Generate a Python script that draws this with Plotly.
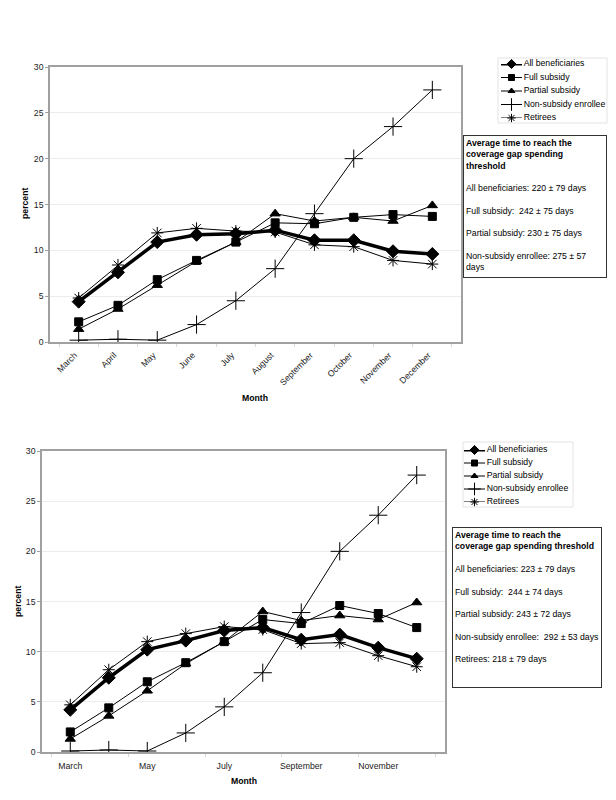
"""Share of beneficiaries reaching the coverage gap, by month (two panels)."""

import plotly.graph_objects as go

months = ["March", "April", "May", "June", "July", "August",
          "September", "October", "November", "December"]
series_names = ["All beneficiaries", "Full subsidy", "Partial subsidy",
                "Non-subsidy enrollee", "Retirees"]

# top panel
top_all = [4.4, 7.6, 10.9, 11.7, 11.8, 12.2, 11.1, 11.1, 9.9, 9.6]
top_full = [2.2, 4.0, 6.8, 8.9, 10.9, 13.0, 12.9, 13.6, 13.9, 13.7]
top_partial = [1.4, 3.6, 6.2, 8.8, 10.9, 14.0, 13.2, 13.6, 13.2, 14.9]
top_nonsub = [0.2, 0.3, 0.2, 1.9, 4.5, 8.0, 14.0, 20.0, 23.5, 27.5]
top_retirees = [4.8, 8.4, 11.9, 12.4, 12.1, 12.0, 10.6, 10.4, 8.9, 8.5]

# bottom panel
bot_all = [4.2, 7.4, 10.2, 11.1, 12.1, 12.4, 11.2, 11.7, 10.4, 9.3]
bot_full = [2.0, 4.4, 7.0, 8.9, 11.0, 13.2, 12.8, 14.6, 13.8, 12.4]
bot_partial = [1.3, 3.6, 6.1, 8.8, 11.0, 14.0, 13.1, 13.6, 13.2, 14.9]
bot_nonsub = [0.1, 0.2, 0.1, 1.9, 4.5, 7.9, 13.9, 20.0, 23.6, 27.6]
bot_retirees = [4.7, 8.2, 11.0, 11.8, 12.5, 12.2, 10.8, 10.9, 9.6, 8.5]

top_box = ("<b>Average time to reach the<br>coverage gap spending<br>threshold</b><br><br>"
           "All beneficiaries: 220 ± 79 days<br><br>"
           "Full subsidy:  242 ± 75 days<br><br>"
           "Partial subsidy: 230 ± 75 days<br><br>"
           "Non-subsidy enrollee: 275 ± 57<br>days")
bot_box = ("<b>Average time to reach the<br>coverage gap spending threshold</b><br><br>"
           "All beneficiaries: 223 ± 79 days<br><br>"
           "Full subsidy:  244 ± 74 days<br><br>"
           "Partial subsidy: 243 ± 72 days<br><br>"
           "Non-subsidy enrollee:  292 ± 53 days<br><br>"
           "Retirees: 218 ± 79 days")

W, H = 616, 800
OFF = 8  # the page body margin shifts the figure by this much
FW, FH = W - OFF, H - OFF
FONT = "Liberation Sans, Arial, sans-serif"
FS = 8.7

# marker look per series: plot size, legend size, line width
styles = [
    dict(symbol="diamond", size=10, lsize=7, width=3.5),
    dict(symbol="square", size=8, lsize=6, width=1),
    dict(symbol="triangle-up", size=9, lsize=6, width=1),
    dict(symbol="cross-thin-open", size=13, lsize=9, width=1),
    dict(symbol="asterisk-open", size=10, lsize=7, width=1),
]


def fx(x):
    return (x - OFF) / FW


def fy(y):
    return 1 - (y - OFF) / FH


def px(x0, x1):
    return [fx(x0), fx(x1)]


def py(top, bottom):
    return [fy(bottom), fy(top)]


fig = go.Figure()

panels = [
    ("x", "y", "x3", "y3", [top_all, top_full, top_partial, top_nonsub, top_retirees]),
    ("x2", "y2", "x4", "y4", [bot_all, bot_full, bot_partial, bot_nonsub, bot_retirees]),
]
for xa, ya, lxa, lya, values in panels:
    for i, (name, vals, st) in enumerate(zip(series_names, values, styles)):
        fig.add_trace(go.Scatter(
            x=months, y=vals, name=name, xaxis=xa, yaxis=ya,
            mode="lines+markers", showlegend=False,
            line=dict(color="black", width=st["width"]),
            marker=dict(symbol=st["symbol"], size=st["size"], color="black",
                        line=dict(color="black", width=1)),
        ))
        # hand-drawn legend entry (plotly's legend rows are too tall)
        fig.add_trace(go.Scatter(
            x=[0, 0.5, 1], y=[i, i, i], xaxis=lxa, yaxis=lya,
            mode="lines+markers+text", showlegend=False, hoverinfo="skip",
            cliponaxis=False,
            text=["", "", name], textposition="middle right",
            textfont=dict(family=FONT, size=FS, color="black"),
            line=dict(color="black", width=min(st["width"], 3)),
            marker=dict(symbol=st["symbol"], size=[1, st["lsize"], 1],
                        color="black", opacity=[0, 1, 0],
                        line=dict(color="black", width=1)),
        ))

axis_common = dict(
    showline=True, linecolor="#a0a0a0", linewidth=1.5, mirror=True,
    tickfont=dict(family=FONT, size=FS, color="#222"),
    zeroline=False, automargin=False,
)
x_common = dict(axis_common, type="category", showgrid=False,
                ticks="outside", tickson="boundaries", ticklen=3,
                tickcolor="#d8d8d8")
y_common = dict(axis_common, range=[0, 30], dtick=5, showgrid=True,
                gridcolor="#ececec", ticks="outside", ticklen=3,
                tickcolor="#a0a0a0")
hidden = dict(visible=False, fixedrange=True, automargin=False)

fig.update_layout(
    width=FW, height=FH, margin=dict(l=0, r=0, t=0, b=0),
    paper_bgcolor="white", plot_bgcolor="white", showlegend=False,
    xaxis=dict(x_common, domain=px(50, 461), tickangle=-45,
               ticklabelshift=-4, ticklabelstandoff=3),
    yaxis=dict(y_common, domain=py(67, 342)),
    xaxis2=dict(x_common, domain=px(42, 445), anchor="y2", dtick=2,
                tickangle=0, ticklabelstandoff=5),
    yaxis2=dict(y_common, domain=py(451, 752), anchor="x2"),
    xaxis3=dict(hidden, domain=px(501, 522), range=[0, 1], anchor="y3"),
    yaxis3=dict(hidden, domain=py(64, 118), range=[4, 0], anchor="x3"),
    xaxis4=dict(hidden, domain=px(464, 485), range=[0, 1], anchor="y4"),
    yaxis4=dict(hidden, domain=py(450, 502), range=[4, 0], anchor="x4"),
)

# legend frames
for x0, y0, x1, y1 in [(498, 58, 607, 123), (463, 442, 573, 507)]:
    fig.add_shape(type="rect", xref="paper", yref="paper",
                  x0=fx(x0), x1=fx(x1), y0=fy(y1), y1=fy(y0),
                  line=dict(color="#e3e3e3", width=1), layer="below")

# axis titles
title_font = dict(family=FONT, size=FS, color="black")
for text, x, y, angle in [("Month", 255, 398, 0), ("percent", 25, 204, -90),
                          ("Month", 244, 781, 0), ("percent", 18, 602, -90)]:
    fig.add_annotation(text=f"<b>{text}</b>", xref="paper", yref="paper",
                       x=fx(x), y=fy(y), xanchor="center", yanchor="middle",
                       showarrow=False, textangle=angle, font=title_font)

box_font = dict(family=FONT, size=FS, color="black")
fig.add_annotation(
    text=top_box, xref="paper", yref="paper", x=fx(463), y=fy(135),
    xanchor="left", yanchor="top", align="left", showarrow=False,
    width=138, height=137, valign="top", font=box_font,
    bordercolor="#333", borderwidth=1, borderpad=2, bgcolor="white",
)
fig.add_annotation(
    text=bot_box, xref="paper", yref="paper", x=fx(452), y=fy(527),
    xanchor="left", yanchor="top", align="left", showarrow=False,
    width=144, height=155, valign="top", font=box_font,
    bordercolor="#333", borderwidth=1, borderpad=2, bgcolor="white",
)

fig.write_html("out.html")
